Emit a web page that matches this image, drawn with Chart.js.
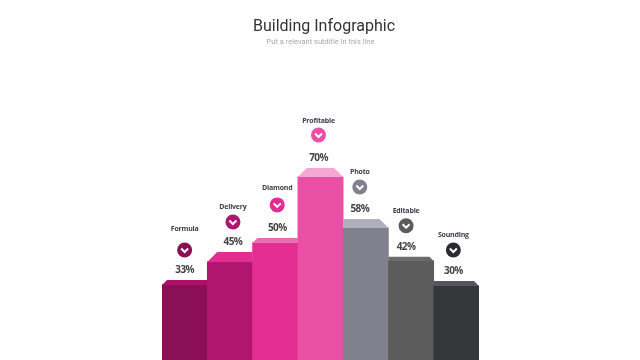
<!DOCTYPE html>
<html>
<head>
<meta charset="utf-8">
<title>Building Infographic</title>
<script src="https://cdn.jsdelivr.net/npm/chart.js@4/dist/chart.umd.min.js"></script>
<style>
  html, body { margin: 0; padding: 0; background: #fff; }
  canvas { display: block; }
</style>
</head>
<body>
<canvas id="buildings" width="640" height="360"></canvas>
<script>
var categories = ["Formula", "Delivery", "Diamond", "Profitable", "Photo", "Editable", "Sounding"];
var percentLabels = [33, 45, 50, 70, 58, 42, 30];
// drawn height of each building (not proportional to the printed percent)
var buildingHeights = [28.7, 37.5, 44.8, 70, 50.5, 37.9, 28.3];
var roofHeights = [1.9, 3.8, 1.9, 3.4, 3.4, 1.6, 1.9];

var frontColors = ["#8a0f55", "#b0166e", "#e32d91", "#e84fa5", "#80808f", "#5c5c5c", "#35363a"];
var roofColors = ["#b0106a", "#e32d91", "#ee69b0", "#f5a6d2", "#b0b0bc", "#6b6b6b", "#55565c"];
var badgeColors = ["#8a0f55", "#b0166e", "#e32d91", "#e84fa5", "#80808f", "#5c5c5c", "#2a2b2e"];

// Roofs and captions ===================================================================
var slantLeft = [1, 1, 1, 1, 0, 0, 0];
var slantRight = [0, 0, 0, 1, 1, 1, 1];
var captionShift = [0, 3, 2, -2, -6, -5, -3];
var badgeLift = [20, 20, 23, 23, 22, 21, 21];
var nameLift = [21, 15, 17, 14, 15, 15, 15];

var buildingDecor = {
    id: "buildingDecor",
    afterLayout: function (chart) {
        // main title sits a little right of the subtitle in the original
        chart.titleBlock.left += 3.5;
        chart.titleBlock.right += 3.5;
    },
    afterDatasetsDraw: function (chart) {
        var c = chart.ctx, bars = chart.getDatasetMeta(0).data, y = chart.scales.y;
        bars.forEach(function (bar, i) {
            var left = bar.x - bar.width / 2, right = bar.x + bar.width / 2;
            var roofTop = y.getPixelForValue(buildingHeights[i] + roofHeights[i]);
            var inset = bar.y - roofTop;

            c.fillStyle = roofColors[i];
            c.beginPath();
            c.moveTo(left, bar.y);
            c.lineTo(left + inset * slantLeft[i], roofTop);
            c.lineTo(right - inset * slantRight[i], roofTop);
            c.lineTo(right, bar.y);
            c.closePath();
            c.fill();

            var cx = bar.x + captionShift[i];
            var pctY = roofTop - 10;
            var badgeY = pctY - badgeLift[i];
            var nameY = badgeY - nameLift[i];

            c.textAlign = "center";
            c.textBaseline = "middle";
            c.fillStyle = "#444444";
            c.font = "bold 10px 'Open Sans'";
            c.letterSpacing = "-0.6px";
            c.fillText(percentLabels[i] + "%", cx, pctY);

            c.fillStyle = "#3a3f4a";
            c.font = "bold 7px 'Open Sans'";
            c.letterSpacing = "-0.2px";
            c.fillText(categories[i], cx, nameY);
            c.letterSpacing = "0px";

            c.fillStyle = badgeColors[i];
            c.beginPath();
            c.arc(cx, badgeY, 7.5, 0, Math.PI * 2);
            c.fill();

            c.strokeStyle = "#ffffff";
            c.lineWidth = 2;
            c.beginPath();
            c.moveTo(cx - 3.5, badgeY - 1.5);
            c.lineTo(cx, badgeY + 2);
            c.lineTo(cx + 3.5, badgeY - 1.5);
            c.stroke();
        });
    }
};

new Chart(document.getElementById("buildings").getContext("2d"), {
    type: "bar",
    data: {
        labels: categories,
        datasets: [{
            data: buildingHeights,
            backgroundColor: frontColors,
            borderWidth: 0,
            barPercentage: 1,
            categoryPercentage: 1
        }]
    },
    options: {
        responsive: false,
        animation: false,
        layout: { padding: { left: 162, right: 161, top: 0, bottom: 0 } },
        plugins: {
            legend: { display: false },
            tooltip: { enabled: false },
            title: {
                display: true,
                text: "Building Infographic",
                color: "#333333",
                font: { family: "Roboto", size: 16, weight: "normal", lineHeight: 1.2 },
                padding: { top: 17.5, bottom: 0 }
            },
            subtitle: {
                display: true,
                text: "Put a relevant subtitle in this line",
                color: "#a9a9a9",
                font: { family: "Roboto", size: 7.5, weight: "normal", lineHeight: 1.2 },
                padding: { top: 1.3, bottom: 51.5 }
            }
        },
        scales: {
            x: { display: false },
            y: { display: false, min: 0, max: 100 }
        }
    },
    plugins: [buildingDecor]
});
</script>
</body>
</html>
